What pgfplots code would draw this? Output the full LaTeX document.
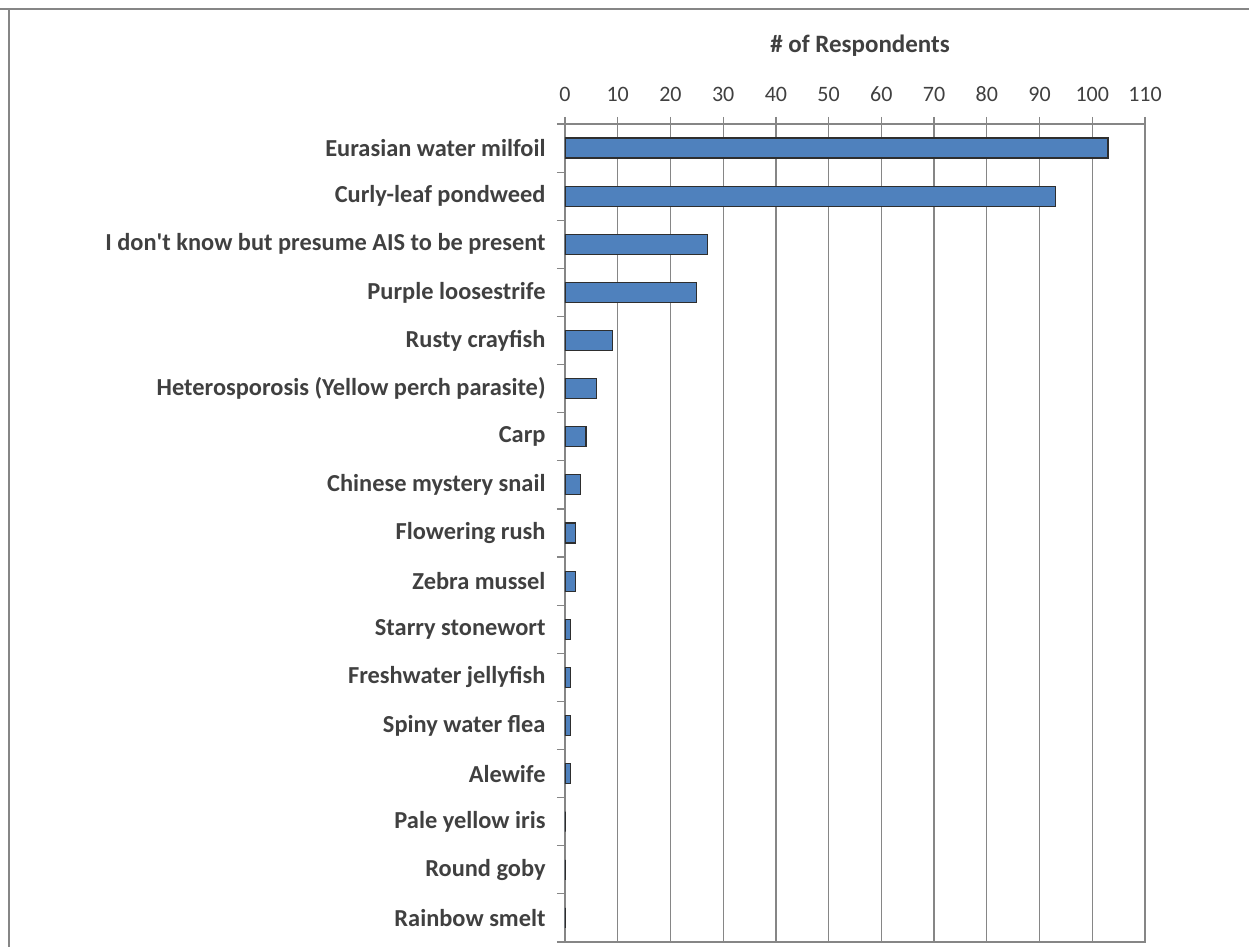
\documentclass[border=0pt]{standalone}
\usepackage{fontspec}
\setmainfont{Carlito}
\usepackage{pgfplots}
\pgfplotsset{compat=1.18}

\definecolor{barblue}{HTML}{4F81BD}
\definecolor{baredge}{HTML}{2E2E2E}
\definecolor{gridgray}{HTML}{868686}
\definecolor{txt}{HTML}{404040}

\begin{document}
\begin{tikzpicture}
\useasboundingbox (0,0) rectangle (624.5pt,473.5pt);
% outer chart frame (clipped by page edge)
\draw[gridgray, line width=1.1pt] (4.6pt,-5pt) -- (4.6pt,469pt) -- (640pt,469pt);
\draw[gridgray, line width=0.6pt] (0,469pt) -- (4.6pt,469pt);

\begin{axis}[
    at={(282.5pt,2.5pt)}, anchor=south west,
    scale only axis,
    width=290pt, height=409pt,
    xmin=0, xmax=110,
    xtick={0,10,...,110},
    xticklabel pos=right,
    xtick pos=right,
    ymin=-0.5, ymax=16.5,
    y dir=reverse,
    ytick={0,...,16},
    yticklabels={
        Eurasian water milfoil,
        Curly-leaf pondweed,
        I don\textquotesingle t know but presume AIS to be present,
        Purple loosestrife,
        Rusty crayfish,
        Heterosporosis (Yellow perch parasite),
        Carp,
        Chinese mystery snail,
        Flowering rush,
        Zebra mussel,
        Starry stonewort,
        Freshwater jellyfish,
        Spiny water flea,
        Alewife,
        Pale yellow iris,
        Round goby,
        Rainbow smelt},
    minor ytick={-0.5,0.5,...,16.5},
    ytick pos=left,
    tick align=outside,
    major tick length=3.5pt,
    minor tick length=4pt,
    every major y tick/.append style={draw=none},
    tick style={gridgray, line width=0.6pt},
    axis line style={gridgray, line width=0.6pt},
    xmajorgrids,
    major grid style={gridgray, line width=0.6pt},
    yticklabel style={font=\fontsize{12.2}{14}\selectfont\bfseries, text=txt, xshift=-2.7pt},
    xticklabel style={font=\fontsize{11}{13}\selectfont, text=txt, yshift=4.2pt},
    /pgf/number format/assume math mode=true,
    title={\# of Respondents},
    title style={font=\fontsize{12.5}{14}\selectfont\bfseries, text=txt,
                 at={(rel axis cs:0.5,1)}, anchor=base, yshift=30pt, xshift=2.5pt},
    xbar, bar width=10pt,
]
\addplot[fill=barblue, draw=baredge, line width=0.6pt] coordinates {
    (103,0) (93,1) (27,2) (25,3) (9,4) (6,5) (4,6) (3,7) (2,8) (2,9)
    (1,10) (1,11) (1,12) (1,13) (0,14) (0,15) (0,16)
};
\end{axis}
\end{tikzpicture}
\end{document}
